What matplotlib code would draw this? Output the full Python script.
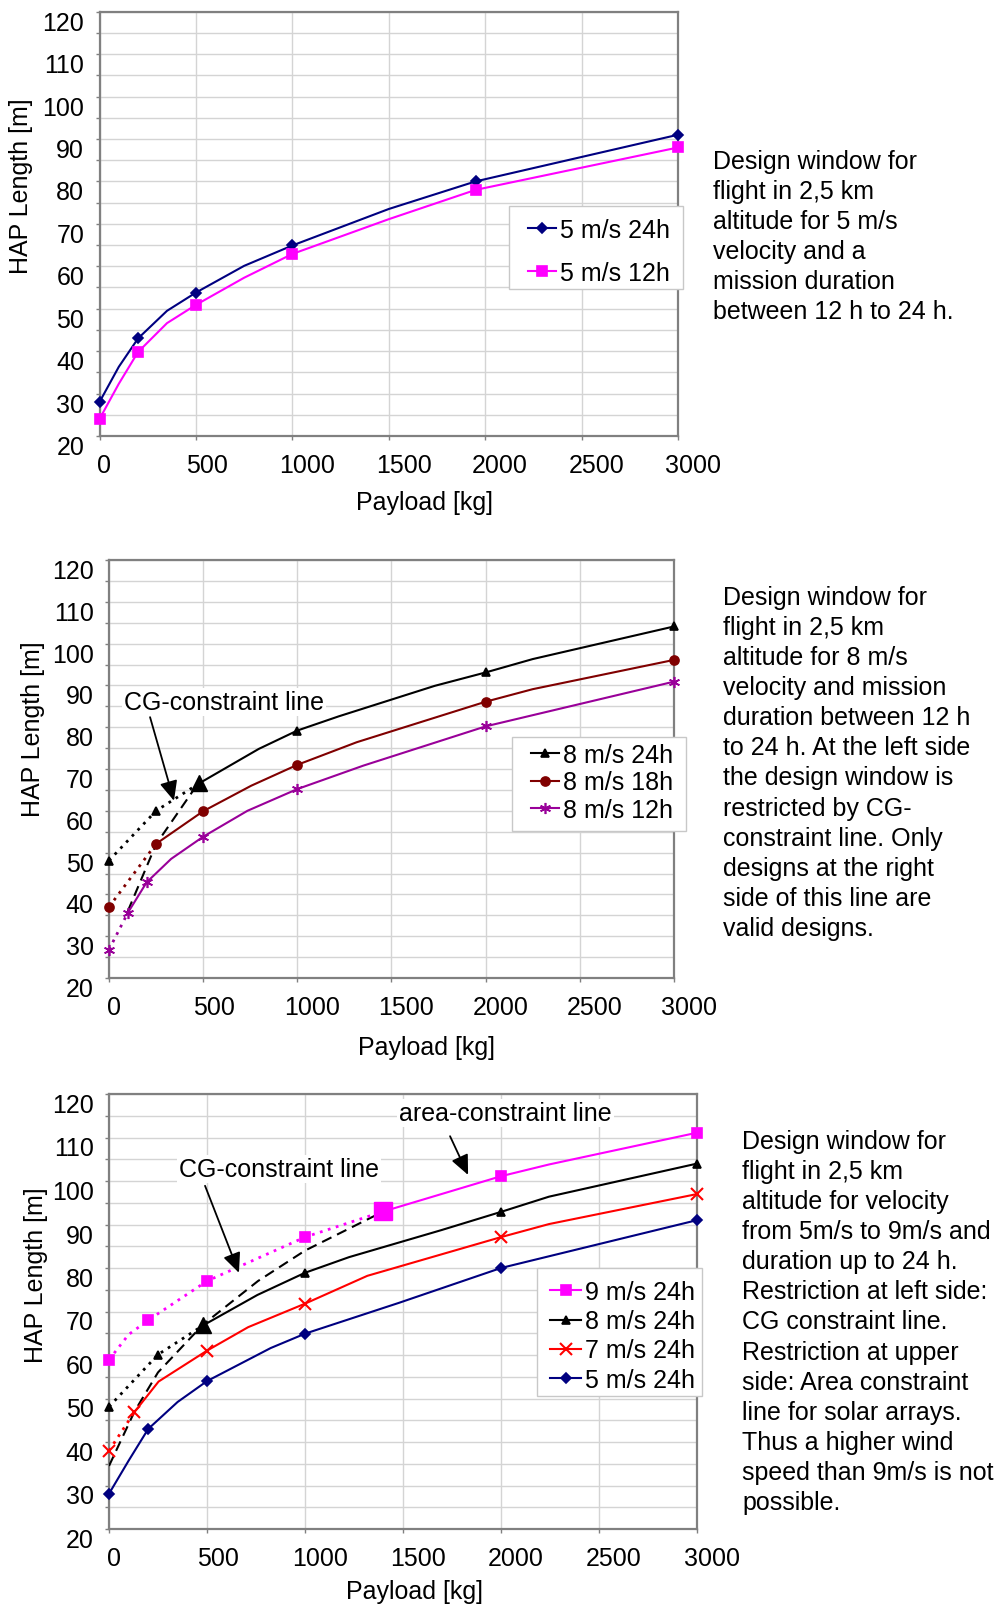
import matplotlib
matplotlib.use("Agg")
import numpy as np
from matplotlib import pyplot as plt
from matplotlib.lines import Line2D
from matplotlib.patches import Rectangle
from matplotlib.transforms import ScaledTranslation

plt.rcParams['font.family'] = ['Liberation Sans', 'DejaVu Sans']

W, H = 1000, 1608
FS = 18

payload_ticks = [0, 500, 1000, 1500, 2000, 2500, 3000]
length_ticks = [20, 30, 40, 50, 60, 70, 80, 90, 100, 110, 120]

# --- 5 m/s, 12 h / 24 h ---
p1_x = [0, 100, 200, 350, 500, 750, 1000, 1500, 1950, 3000]
p1_24h = [28, 36.3, 43, 49.5, 53.8, 60.1, 64.9, 73.5, 80, 91]
p1_12h = [24, 32.3, 39.8, 46.6, 50.9, 57.3, 62.9, 71.1, 78, 88]
p1_marks = [0, 2, 4, 6, 8, 9]

# --- 8 m/s, 12 h / 18 h / 24 h ---
p2_24h_x = [0, 250, 480, 795, 1000, 1220, 1730, 2000, 2250, 3000]
p2_24h_y = [48.1, 60, 66.6, 74.8, 79.2, 82.6, 89.9, 93.1, 96.3, 104.1]
p2_24h_marks = [0, 1, 2, 4, 7, 9]
p2_18h_x = [0, 250, 500, 755, 1000, 1315, 2000, 2250, 3000]
p2_18h_y = [37, 52.1, 59.9, 66, 71, 76.4, 86.1, 89.1, 96.1]
p2_18h_marks = [0, 1, 2, 4, 6, 8]
p2_12h_x = [0, 100, 200, 330, 500, 735, 1000, 1350, 2000, 3000]
p2_12h_y = [26.8, 35.6, 42.9, 48.5, 53.8, 60, 65.2, 70.8, 80.2, 90.9]
p2_12h_marks = [0, 1, 2, 4, 6, 8, 9]
p2_cg_x = [100, 250, 480]
p2_cg_y = [36, 52, 67]

# --- 5 to 9 m/s, 24 h ---
p3_9_x = [0, 100, 200, 500, 1000, 1400, 2000, 2245, 3000]
p3_9_y = [58.9, 64.7, 68, 77, 87.1, 93, 101.1, 103.8, 111.1]
p3_9_marks = [0, 2, 3, 4, 5, 6, 8]
p3_8_x = [0, 250, 480, 757, 1000, 1225, 1695, 2000, 2245, 3000]
p3_8_y = [48.1, 60.1, 66.8, 73.8, 78.9, 82.5, 88.7, 92.9, 96.4, 104]
p3_8_marks = [0, 1, 2, 4, 7, 9]
p3_7_x = [0, 130, 253, 500, 710, 1000, 1318, 2000, 2245, 3000]
p3_7_y = [38, 46.9, 53.9, 61, 66.4, 71.8, 78.2, 87.1, 90.1, 97]
p3_7_marks = [0, 1, 3, 5, 7, 9]
p3_5_x = [0, 100, 200, 350, 500, 825, 1000, 1480, 2000, 3000]
p3_5_y = [28.1, 35.7, 43, 49.2, 54, 61.6, 64.9, 72, 80, 91]
p3_5_marks = [0, 2, 4, 6, 8, 9]
p3_cg_x = [0, 130, 250, 480, 760, 1000, 1400]
p3_cg_y = [34.5, 47, 56, 67, 77, 84, 93]

text1 = ("Design window for\nflight in 2,5 km\naltitude for 5 m/s\n"
         "velocity and a\nmission duration\nbetween 12 h to 24 h.")
text2 = ("Design window for\nflight in 2,5 km\naltitude for 8 m/s\n"
         "velocity and mission\nduration between 12 h\nto 24 h. At the left side\n"
         "the design window is\nrestricted by CG-\nconstraint line. Only\n"
         "designs at the right\nside of this line are\nvalid designs.")
text3 = ("Design window for\nflight in 2,5 km\naltitude for velocity\n"
         "from 5m/s to 9m/s and\nduration up to 24 h.\nRestriction at left side:\n"
         "CG constraint line.\nRestriction at upper\nside: Area constraint\n"
         "line for solar arrays.\nThus a higher wind\nspeed than 9m/s is not\npossible.")

NAVY = '#000080'
PINK = '#ff00ff'
DRED = '#800000'
PURP = '#990099'
RED = '#ff0000'
STAR = (6, 2, 0)

fig = plt.figure(figsize=(W / 100, H / 100), dpi=100)


def make_axes(left, right, top, bottom):
    ax = fig.add_axes([left / W, 1 - bottom / H, (right - left) / W, (bottom - top) / H])
    ax.set_xlim(0, 3000)
    ax.set_ylim(20, 120)
    ax.set_xticks(payload_ticks)
    ax.set_yticks(length_ticks)
    ax.set_yticks(np.arange(25, 120, 10), minor=True)
    ax.set_xticklabels([str(t) for t in payload_ticks], fontsize=FS)
    ax.set_yticklabels([str(t) for t in length_ticks], fontsize=FS)
    ax.grid(True, which='both', color='#d4d4d4', lw=1)
    ax.set_axisbelow(True)
    for s in ax.spines.values():
        s.set_color('#808080')
        s.set_linewidth(1.6)
    ax.tick_params(which='both', color='#808080', length=3, width=1)
    ax.tick_params(axis='y', pad=8)
    ax.tick_params(axis='x', pad=9)
    # labels sit a little low / to the right of their grid lines
    for lab in ax.get_yticklabels():
        lab.set_transform(lab.get_transform() + ScaledTranslation(0, -8.5 / 100, fig.dpi_scale_trans))
    for lab, dx in zip(ax.get_xticklabels(), [5, 11, 15, 15, 15, 15, 15]):
        lab.set_transform(lab.get_transform() + ScaledTranslation(dx / 100, 0, fig.dpi_scale_trans))
    return ax


def draw_series(ax, x, y, marks, color, marker, ms, cut=None, big=False, mew=1.2):
    x = np.asarray(x, float)
    y = np.asarray(y, float)
    if cut is None:
        ax.plot(x, y, color=color, lw=1.5, zorder=3)
    else:
        k = int(np.where(x == cut)[0][0])
        ax.plot(x[:k + 1], y[:k + 1], color=color, lw=2, ls=(0, (1, 2)), zorder=3)
        ax.plot(x[k:], y[k:], color=color, lw=1.5, zorder=3)
    ax.plot(x[marks], y[marks], ls='none', marker=marker, ms=ms, color=color,
            mec=color, mew=mew, zorder=4, clip_on=False)
    if big:
        ax.plot([cut], [y[x == cut][0]], ls='none', marker=marker, ms=ms * 1.9,
                color=color, zorder=5, clip_on=False)


def handle(color, marker, ms, mew=1.2):
    return Line2D([], [], color=color, lw=1.5, marker=marker, ms=ms, mec=color, mew=mew)


def add_legend(handles, labels, box, hx, top, hlen, spacing):
    x0, y0, x1, y1 = box
    fig.add_artist(Rectangle((x0 / W, 1 - y1 / H), (x1 - x0) / W, (y1 - y0) / H,
                             transform=fig.transFigure, facecolor='white',
                             edgecolor='#c8c8c8', lw=1, zorder=4))
    leg = fig.legend(handles, labels, loc='upper left', bbox_to_anchor=(hx / W, 1 - top / H),
                     fontsize=FS, frameon=False, handlelength=hlen, handletextpad=0.16,
                     borderpad=0, labelspacing=spacing, borderaxespad=0)
    leg.set_zorder(5)


def axis_titles(xc, yc, yl_x, yl_y):
    fig.text(xc / W, 1 - yc / H, 'Payload [kg]', fontsize=FS, ha='center', va='center')
    fig.text(yl_x / W, 1 - yl_y / H, 'HAP Length [m]', fontsize=FS, ha='center', va='center',
             rotation=90)


def note(ax, label, x, y, tail, tip):
    ax.text(x, y, label, fontsize=FS, ha='left', va='center', zorder=12, clip_on=False,
            bbox=dict(facecolor='white', edgecolor='none', pad=1.5))
    ax.annotate('', xy=tip, xytext=tail, zorder=12,
                arrowprops=dict(arrowstyle='-|>,head_length=1.0,head_width=0.45',
                                mutation_scale=12, color='black', lw=1.3,
                                shrinkA=0, shrinkB=0))


def side_text(x, top, s):
    fig.text(x / W, 1 - top / H, s, fontsize=FS, ha='left', va='top', linespacing=1.32)


# ---- top chart ----
ax1 = make_axes(99.5, 678, 12.7, 437)
draw_series(ax1, p1_x, p1_24h, p1_marks, NAVY, 'D', 5.5)
draw_series(ax1, p1_x, p1_12h, p1_marks, PINK, 's', 7)
add_legend([handle(NAVY, 'D', 5.5), handle(PINK, 's', 7)], ['5 m/s 24h', '5 m/s 12h'],
           (509, 207, 683, 290), 528, 219, 1.12, 0.75)
axis_titles(424, 503, 21, 186)
side_text(713, 150, text1)

# ---- middle chart ----
ax2 = make_axes(109, 674, 561, 979)
ax2.plot(p2_cg_x, p2_cg_y, color='black', lw=1.5, ls=(0, (5, 3)), zorder=3)
draw_series(ax2, p2_24h_x, p2_24h_y, p2_24h_marks, 'black', '^', 6, cut=480, big=True)
draw_series(ax2, p2_18h_x, p2_18h_y, p2_18h_marks, DRED, 'o', 6.5, cut=250)
draw_series(ax2, p2_12h_x, p2_12h_y, p2_12h_marks, PURP, STAR, 8, cut=100)
add_legend([handle('black', '^', 6), handle(DRED, 'o', 6.5), handle(PURP, STAR, 8)],
           ['8 m/s 24h', '8 m/s 18h', '8 m/s 12h'],
           (512, 738, 686, 832), 531, 744, 1.12, 0.14)
note(ax2, 'CG-constraint line', 80, 86, (218, 82.4), (345, 62.4))
axis_titles(426, 1048, 33, 729)
side_text(723, 586, text2)

# ---- bottom chart ----
ax3 = make_axes(109, 697, 1095, 1530)
ax3.plot(p3_cg_x, p3_cg_y, color='black', lw=1.5, ls=(0, (5, 3)), zorder=3)
draw_series(ax3, p3_9_x, p3_9_y, p3_9_marks, PINK, 's', 7, cut=1400, big=True)
draw_series(ax3, p3_8_x, p3_8_y, p3_8_marks, 'black', '^', 6, cut=480, big=True)
draw_series(ax3, p3_7_x, p3_7_y, p3_7_marks, RED, 'x', 8, cut=130, mew=1.5)
draw_series(ax3, p3_5_x, p3_5_y, p3_5_marks, NAVY, 'D', 5.5)
add_legend([handle(PINK, 's', 7), handle('black', '^', 6), handle(RED, 'x', 8, 1.5),
            handle(NAVY, 'D', 5.5)],
           ['9 m/s 24h', '8 m/s 24h', '7 m/s 24h', '5 m/s 24h'],
           (537, 1269, 702, 1397), 550, 1281, 1.25, 0.21)
note(ax3, 'CG-constraint line', 357, 102.8, (490, 98.9), (663, 78.9))
note(ax3, 'area-constraint line', 1480, 115.6, (1740, 110.3), (1832, 101.4))
axis_titles(415, 1592, 36, 1275)
side_text(742, 1130, text3)

fig.savefig('out.png', dpi=100)
